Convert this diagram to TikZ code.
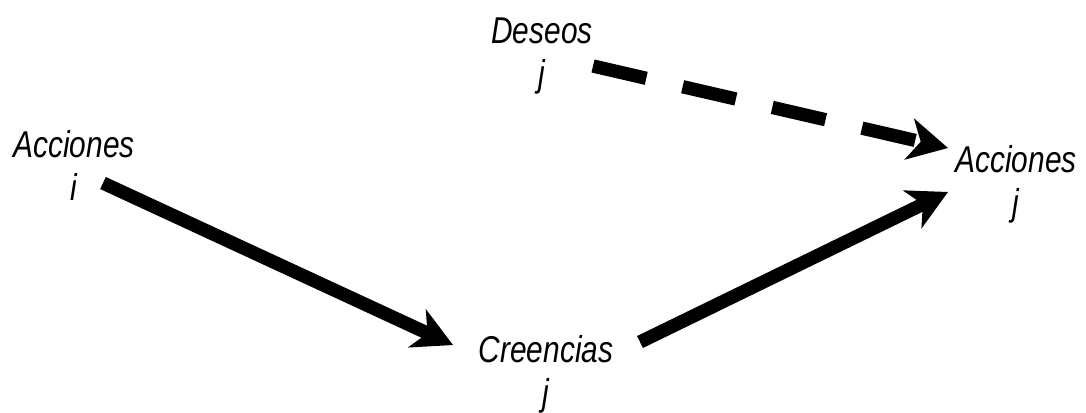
\documentclass[tikz,border=0pt]{standalone}
\usepackage{fontspec}
\newfontfamily\lblfont{Liberation Sans}[FakeStretch=0.8]
\usetikzlibrary{arrows.meta}
\begin{document}
\begin{tikzpicture}[x=0.75pt,y=-0.75pt,
  lbl/.style={align=center, inner sep=0pt, anchor=base,
    font=\lblfont\itshape\fontsize{28}{32}\selectfont},
  flecha/.style={line width=10pt,
    -{Stealth[length=30pt,width=32pt,inset=9pt,line width=0pt]}},
  flechapunt/.style={flecha, dash pattern=on 41pt off 28pt}]
  \useasboundingbox (0,0) rectangle (1086,412);
  % etiquetas
  \node[lbl] (ai) at (74,200) {Acciones\\i};
  \node[lbl] (dj) at (542,86) {Deseos\\j};
  \node[lbl] (cj) at (546,405) {Creencias\\j};
  \node[lbl] (aj) at (1016,215) {Acciones\\j};
  % flechas
  \draw[flecha] ([shift={(29,-17)}]ai.base) -- ([shift={(-93,-60)}]cj.base);
  \draw[flecha] ([shift={(94,-63)}]cj.base) -- ([shift={(-68,-23)}]aj.base);
  \draw[flechapunt] ([shift={(51,-20)}]dj.base) -- ([shift={(-68,-67)}]aj.base);
\end{tikzpicture}
\end{document}
